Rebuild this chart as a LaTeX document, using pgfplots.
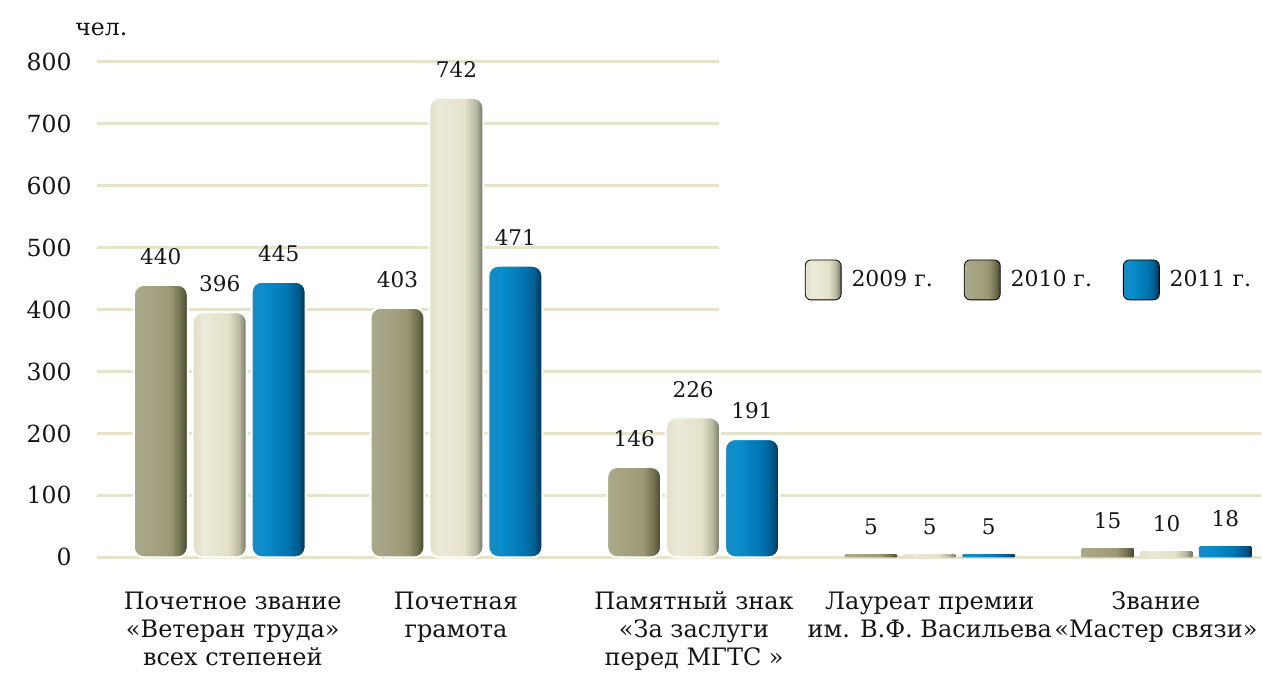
\documentclass[border=0pt]{standalone}
\usepackage{pgfplots}
\pgfplotsset{compat=1.18}
\usepackage{fontspec}
\setmainfont{DejaVu Serif}

\definecolor{txt}{HTML}{151515}
\definecolor{gridc}{HTML}{E6E3CA}
% olive (2010)
\definecolor{o1}{HTML}{ABA98D}
\definecolor{o2}{HTML}{A7A585}
\definecolor{o3}{HTML}{9B9975}
\definecolor{o4}{HTML}{737150}
\definecolor{o5}{HTML}{45452B}
% beige (2009)
\definecolor{b1}{HTML}{E2E0CA}
\definecolor{b2}{HTML}{ECEAD9}
\definecolor{b3}{HTML}{E3E1C8}
\definecolor{b4}{HTML}{B8B79F}
\definecolor{b5}{HTML}{707060}
% blue (2011)
\definecolor{u1}{HTML}{1A89C0}
\definecolor{u2}{HTML}{0B8ECC}
\definecolor{u3}{HTML}{0075B2}
\definecolor{u4}{HTML}{005B8D}
\definecolor{u5}{HTML}{00314F}

\pgfdeclarehorizontalshading{oliveshade}{100bp}{color(0bp)=(o1); color(25bp)=(o1); color(36bp)=(o2); color(58bp)=(o3); color(68bp)=(o4); color(75bp)=(o5); color(100bp)=(o5)}
\pgfdeclarehorizontalshading{beigeshade}{100bp}{color(0bp)=(b1); color(25bp)=(b1); color(36bp)=(b2); color(58bp)=(b3); color(68bp)=(b4); color(75bp)=(b5); color(100bp)=(b5)}
\pgfdeclarehorizontalshading{blueshade}{100bp}{color(0bp)=(u1); color(25bp)=(u1); color(36bp)=(u2); color(58bp)=(u3); color(68bp)=(u4); color(75bp)=(u5); color(100bp)=(u5)}

\pgfplotsset{
  big/.style={ybar, bar width=0.228, shading=#1, draw=white, line width=1pt,
    rounded corners=5pt, nodes near coords, forget plot},
  small/.style={ybar, bar width=0.224, shading=#1, draw=none,
    rounded corners=0.6pt, nodes near coords, forget plot},
  posL/.style={bar shift=-0.249, every node near coord/.append style={xshift=-29.5pt}},
  posM/.style={bar shift=0},
  posR/.style={bar shift=0.249, every node near coord/.append style={xshift=29.5pt}},
  gl/.style={gridc, line width=1.5pt, forget plot},
}

\begin{document}
\begin{tikzpicture}
\begin{axis}[
  scale only axis, width=582.5pt, height=248pt,
  xmin=-0.519, xmax=4.397, ymin=0, ymax=800,
  axis line style={draw=none}, major tick length=0pt,
  ytick={0,100,200,300,400,500,600,700,800},
  xtick={0.055,0.998,2.004,3,3.955},
  xticklabels={{Почетное звание\\«Ветеран труда»\\всех степеней},
               {Почетная\\грамота},
               {Памятный знак\\«За заслуги\\перед МГТС »},
               {Лауреат премии\\им. В.Ф. Васильева},
               {Звание\\«Мастер связи»}},
  /pgf/number format/assume math mode=true,
  yticklabel style={font=\fontsize{11.8}{13}\selectfont, inner sep=0pt, xshift=-12.5pt, text=txt},
  xticklabel style={font=\fontsize{12}{14}\selectfont, inner sep=0pt, yshift=-17pt, align=center, text=txt},
  clip=false,
  nodes near coords style={font=\fontsize{10.8}{12}\selectfont, inner sep=0pt, yshift=9.5pt, text=txt},
  legend style={draw=none, fill=none, at={(0.608,0.56)}, anchor=west,
    legend columns=3, font=\fontsize{11}{13}\selectfont, inner sep=0pt,
    nodes={inner sep=0pt, text=txt},
    /tikz/every odd column/.append style={column sep=5pt},
    /tikz/every even column/.append style={column sep=15.5pt},
    /tikz/column 6/.append style={column sep=0pt}},
]
% grid lines
\addplot[gl] coordinates {(-0.519,800) (2.11,800)};
\addplot[gl] coordinates {(-0.519,700) (2.11,700)};
\addplot[gl] coordinates {(-0.519,600) (2.11,600)};
\addplot[gl] coordinates {(-0.519,500) (2.11,500)};
\addplot[gl] coordinates {(-0.519,400) (2.11,400)};
\addplot[gl] coordinates {(-0.519,300) (4.397,300)};
\addplot[gl] coordinates {(-0.519,200) (4.397,200)};
\addplot[gl] coordinates {(-0.519,100) (4.397,100)};
\addplot[gl] coordinates {(-0.519,0) (4.397,0)};

% legend
\addlegendimage{legend image code/.code={\shade[shading=beigeshade, rounded corners=3pt] (0pt,-10pt) rectangle (18pt,10pt);}}
\addlegendentry{2009 г.}
\addlegendimage{legend image code/.code={\shade[shading=oliveshade, rounded corners=3pt] (0pt,-10pt) rectangle (18pt,10pt);}}
\addlegendentry{2010 г.}
\addlegendimage{legend image code/.code={\shade[shading=blueshade, rounded corners=3pt] (0pt,-10pt) rectangle (18pt,10pt);}}
\addlegendentry{2011 г.}

% 2010 (olive, left in each group)
\addplot[big=oliveshade, posL] coordinates {(0,440)};
\addplot[big=oliveshade, posL] coordinates {(1,403)};
\addplot[big=oliveshade, posL] coordinates {(2,146)};
\addplot[small=oliveshade, posL] coordinates {(3,5)};
\addplot[small=oliveshade, posL] coordinates {(4,15)};
% 2009 (beige, middle)
\addplot[big=beigeshade, posM] coordinates {(0,396)};
\addplot[big=beigeshade, posM] coordinates {(1,742)};
\addplot[big=beigeshade, posM] coordinates {(2,226)};
\addplot[small=beigeshade, posM] coordinates {(3,5)};
\addplot[small=beigeshade, posM] coordinates {(4,10)};
% 2011 (blue, right)
\addplot[big=blueshade, posR] coordinates {(0,445)};
\addplot[big=blueshade, posR] coordinates {(1,471)};
\addplot[big=blueshade, posR] coordinates {(2,191)};
\addplot[small=blueshade, posR] coordinates {(3,5)};
\addplot[small=blueshade, posR] coordinates {(4,18)};

\node[anchor=base west, inner sep=0pt, font=\fontsize{11.8}{13}\selectfont, text=txt]
  at ([xshift=-11pt, yshift=13pt]rel axis cs:0,1) {чел.};
\end{axis}
\path (current axis.south west) ++(-48.5pt,-58pt) rectangle ([yshift=31pt]current axis.north east);
\end{tikzpicture}
\end{document}
